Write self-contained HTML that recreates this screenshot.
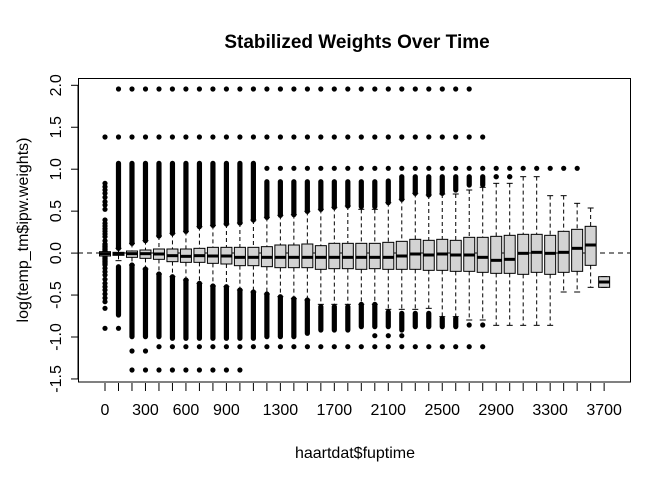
<!DOCTYPE html>
<html><head><meta charset="utf-8"><style>
html,body{margin:0;padding:0;background:#fff;width:672px;height:480px;overflow:hidden}
text{font-family:"Liberation Sans",Arial,sans-serif}
</style></head><body>
<svg id="s" width="672" height="480" xmlns="http://www.w3.org/2000/svg">
<rect width="672" height="480" fill="#fff"/>
<text x="357" y="48" font-size="19" font-weight="bold" text-anchor="middle">Stabilized Weights Over Time</text>
<text x="355" y="458" font-size="16" text-anchor="middle">haartdat$fuptime</text>
<text transform="translate(28,230) rotate(-90)" font-size="16" text-anchor="middle">log(temp_tm$ipw.weights)</text>
<g id="g"></g>
<rect x="78.5" y="78.5" width="552" height="303.5" fill="none" stroke="#000" stroke-width="1"/>
</svg>
<script>
var g=document.getElementById('g'),h='';
function Y(z){return 70+z/3;}
function X(i){return 105+13.49*i;}
var B=[
[545,551,558,545,558,0,0,0,0],
[547,551,556,535,572,280,535,590,735],
[543,551,562,520,585,280,520,585,800],
[540,551,565,512,597,280,512,597,800],
[537,552,568,498,612,280,498,612,800],
[537,557,575,490,620,280,490,620,805],
[537,559,577,484,630,280,484,630,805],
[535,557,577,470,640,280,470,640,805],
[532,558,580,466,648,280,466,648,805],
[532,558,582,462,650,280,462,650,805],
[532,562,587,459,660,280,459,660,805],
[532,562,587,450,666,280,450,666,805],
[530,562,590,442,672,335,442,672,800],
[525,562,593,436,680,335,436,680,800],
[525,562,593,434,686,335,434,686,800],
[522,562,593,424,690,335,424,690,790],
[527,562,598,418,703,335,418,710,780],
[520,562,596,412,703,335,412,710,780],
[520,562,596,408,703,335,408,710,780],
[520,562,598,418,703,335,410,703,770],
[520,562,596,418,703,335,410,703,770],
[517,562,598,398,718,333,398,726,770],
[514,558,598,388,718,320,388,730,780],
[508,552,598,370,718,320,370,730,770],
[511,555,601,375,715,320,375,730,770],
[508,552,601,372,740,320,370,745,770],
[511,555,604,372,740,320,360,745,770],
[502,555,604,360,750,320,345,765,765],
[502,562,607,352,750,320,345,765,765],
[499,571,610,340,766,320,320,0,0],
[496,568,610,340,766,320,320,0,0],
[493,550,613,320,766,0,0,0,0],
[493,547,607,320,766,0,0,0,0],
[496,550,613,377,766,0,0,0,0],
[484,547,607,377,666,0,0,0,0],
[478,535,604,400,666,0,0,0,0],
[469,525,586,414,652,0,0,0,0],
[620,636,652,620,652,0,0,0,0]];
function dot(x,y){h+='<circle cx="'+x.toFixed(1)+'" cy="'+y.toFixed(1)+'" r="2.6" fill="#000"/>';}
h+='<line x1="78" y1="253" x2="631" y2="253" stroke="#000" stroke-dasharray="5,4"/>';
for(var i=0;i<38;i++){
 var b=B[i],x=X(i);
 if(b[5]&&b[6]>b[5])h+='<line x1="'+x+'" y1="'+Y(b[5])+'" x2="'+x+'" y2="'+Y(b[6])+'" stroke="#000" stroke-width="5.2" stroke-linecap="round"/>';
 else if(b[5])dot(x,Y(b[5]));
 if(b[7]&&b[8]>b[7])h+='<line x1="'+x+'" y1="'+Y(b[7])+'" x2="'+x+'" y2="'+Y(b[8])+'" stroke="#000" stroke-width="5.2" stroke-linecap="round"/>';
 else if(b[7])dot(x,Y(b[7]));
 if(i==0){[340,350,360,370,382,395,405,418,450,460,468,476,484,492,500,512,522,530,538,565,575,585,595,605,615,628,640,650,660,672,684,695,715,775].forEach(function(z){dot(x,Y(z));});
  h+='<line x1="'+x+'" y1="'+Y(520)+'" x2="'+x+'" y2="'+Y(585)+'" stroke="#000" stroke-width="5.2"/>';
  h+='<line x1="'+(x-5)+'" y1="'+Y(551)+'" x2="'+(x+5)+'" y2="'+Y(551)+'" stroke="#000" stroke-width="4"/>';}
 if(i==1)dot(x,Y(775));
 if(i>=1&&i<=27)dot(x,Y(57));
 if(i<=28)dot(x,Y(201));
 if(i>=12&&i<=35)dot(x,Y(295));
 if(i>=29&&i<=30)dot(x,Y(320));
 if(i>=4&&i<=28)dot(x,Y(830));
 if(i>=20&&i<=22)dot(x,Y(797));
 if(i>=2&&i<=10)dot(x,Y(900));
 if(i==2||i==3)dot(x,Y(843));
 h+='<line x1="'+x+'" y1="'+Y(b[3])+'" x2="'+x+'" y2="'+Y(b[0])+'" stroke="#000" stroke-dasharray="4,3"/>';
 h+='<line x1="'+x+'" y1="'+Y(b[2])+'" x2="'+x+'" y2="'+Y(b[4])+'" stroke="#000" stroke-dasharray="4,3"/>';
 h+='<line x1="'+(x-3)+'" y1="'+Y(b[3])+'" x2="'+(x+3)+'" y2="'+Y(b[3])+'" stroke="#000"/>';
 h+='<line x1="'+(x-3)+'" y1="'+Y(b[4])+'" x2="'+(x+3)+'" y2="'+Y(b[4])+'" stroke="#000"/>';
 h+='<rect x="'+(x-5.5)+'" y="'+Y(b[0])+'" width="11" height="'+Math.max(1,(b[2]-b[0])/3)+'" fill="#d3d3d3" stroke="#000"/>';
 h+='<line x1="'+(x-5.5)+'" y1="'+Y(b[1])+'" x2="'+(x+5.5)+'" y2="'+Y(b[1])+'" stroke="#000" stroke-width="3"/>';
 h+='<line x1="'+x+'" y1="383" x2="'+x+'" y2="391" stroke="#000"/>';
}
var lab=[[0,'0'],[3,'300'],[6,'600'],[9,'900'],[13,'1300'],[17,'1700'],[21,'2100'],[25,'2500'],[29,'2900'],[33,'3300'],[37,'3700']];
lab.forEach(function(l){h+='<text x="'+X(l[0])+'" y="415" font-size="16" text-anchor="middle">'+l[1]+'</text>';});
var yl=['-1.5','-1.0','-0.5','0.0','0.5','1.0','1.5','2.0'];
for(var k=0;k<8;k++){var v=-1.5+0.5*k,y=253.1-83.9*v;
 h+='<line x1="71" y1="'+y+'" x2="78" y2="'+y+'" stroke="#000"/>';
 h+='<text transform="translate(61,'+y+') rotate(-90)" font-size="16" text-anchor="middle">'+yl[k]+'</text>';}
h+='<line x1="78" y1="85.2" x2="78" y2="379" stroke="#000"/>';
g.innerHTML=h;
</script>
</body></html>
